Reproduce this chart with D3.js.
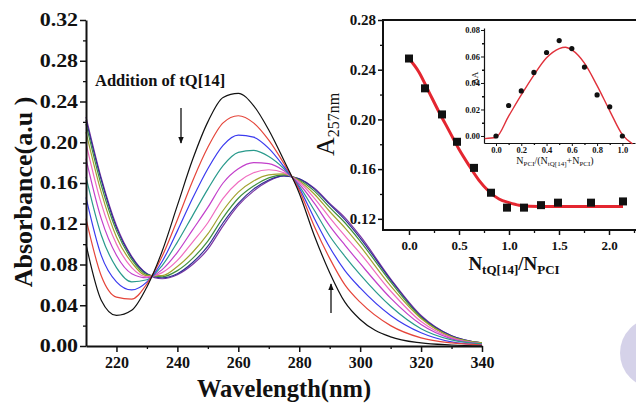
<!DOCTYPE html>
<html><head><meta charset="utf-8">
<script src="https://cdn.jsdelivr.net/npm/d3@7"></script>
<style>
body{margin:0;background:#fff}
svg{display:block}
text{font-family:"Liberation Serif","Times New Roman",serif;fill:#111}
</style>
</head><body>
<svg id="c" width="636" height="403"></svg>
<script>
// ---------- DATA ----------
const wavelengths = [210,215,220,225,230,235,240,245,250,255,260,265,270,275,280,285,290,295,300,310,320,330,340];
const spectrum0 = [0.100,0.045,0.030,0.035,0.058,0.093,0.138,0.183,0.220,0.244,0.248,0.236,0.212,0.182,0.150,0.108,0.072,0.043,0.026,0.009,0.003,0.001,0.000];
const spectrum1 = [0.125,0.069,0.048,0.046,0.061,0.088,0.124,0.162,0.195,0.219,0.226,0.219,0.202,0.179,0.153,0.117,0.086,0.060,0.043,0.020,0.008,0.003,0.001];
const spectrum2 = [0.146,0.089,0.063,0.055,0.063,0.083,0.113,0.145,0.174,0.197,0.207,0.205,0.194,0.176,0.155,0.125,0.097,0.074,0.057,0.030,0.013,0.004,0.001];
const spectrum3 = [0.166,0.109,0.077,0.063,0.065,0.079,0.102,0.128,0.154,0.177,0.190,0.192,0.186,0.174,0.157,0.133,0.108,0.088,0.070,0.039,0.017,0.006,0.002];
const spectrum4 = [0.184,0.125,0.089,0.071,0.067,0.075,0.092,0.114,0.136,0.160,0.174,0.180,0.179,0.172,0.159,0.140,0.118,0.099,0.081,0.047,0.021,0.007,0.002];
const spectrum5 = [0.199,0.140,0.100,0.077,0.068,0.072,0.084,0.102,0.121,0.145,0.161,0.170,0.173,0.170,0.161,0.145,0.126,0.108,0.091,0.054,0.024,0.008,0.002];
const spectrum6 = [0.210,0.151,0.107,0.082,0.069,0.069,0.078,0.092,0.110,0.133,0.151,0.162,0.168,0.169,0.162,0.149,0.132,0.116,0.098,0.059,0.027,0.009,0.003];
const spectrum7 = [0.218,0.158,0.113,0.085,0.070,0.068,0.074,0.086,0.103,0.126,0.145,0.157,0.165,0.168,0.163,0.152,0.136,0.121,0.103,0.063,0.028,0.009,0.003];
const spectrum8 = [0.222,0.163,0.116,0.087,0.071,0.067,0.071,0.082,0.098,0.121,0.140,0.154,0.163,0.167,0.164,0.154,0.139,0.124,0.106,0.065,0.029,0.010,0.003];
const spectrum9 = [0.225,0.165,0.118,0.088,0.071,0.066,0.070,0.080,0.095,0.118,0.138,0.152,0.162,0.167,0.164,0.155,0.140,0.126,0.108,0.066,0.030,0.010,0.003];
const spectra = [spectrum0,spectrum1,spectrum2,spectrum3,spectrum4,spectrum5,spectrum6,spectrum7,spectrum8,spectrum9];
const spectrumColors = ["#111111","#e5453a","#3b3bef","#2a9a8c","#c23fcb","#f06cc0","#a3a32e","#3f8f3f","#2e2e92","#7b34a4"];

const mainXTicks = [220,240,260,280,300,320,340];
const mainXMinor = [230,250,270,290,310,330];
const mainYTicks = [0,0.04,0.08,0.12,0.16,0.20,0.24,0.28,0.32];
const mainYMinor = [0.02,0.06,0.10,0.14,0.18,0.22,0.26,0.30];

// inset: A257 vs ratio
const ratioX = [0,0.16,0.33,0.48,0.65,0.82,0.98,1.15,1.32,1.49,1.82,2.14];
const a257 = [0.249,0.225,0.204,0.182,0.161,0.141,0.129,0.129,0.131,0.133,0.133,0.134];
const fitX = [0,0.1,0.2,0.3,0.4,0.5,0.6,0.7,0.8,0.9,1.0,1.1,1.3,1.6,2.14];
const fitY = [0.249,0.238,0.222,0.206,0.191,0.176,0.163,0.151,0.142,0.136,0.133,0.131,0.130,0.130,0.130];
const insetXTicks = [0,0.5,1.0,1.5,2.0];
const insetXMinor = [0.25,0.75,1.25,1.75,2.25];
const insetYTicks = [0.12,0.16,0.20,0.24,0.28];
const insetYMinor = [0.14,0.18,0.22,0.26];

// inner inset: Job plot
const jobX = [0,0.1,0.2,0.3,0.4,0.5,0.6,0.7,0.8,0.9,1.0];
const jobY = [0.000,0.023,0.034,0.048,0.063,0.072,0.066,0.052,0.031,0.022,0.000];
const jobFitX = [-0.09,0,0.1,0.2,0.3,0.4,0.5,0.55,0.6,0.7,0.8,0.9,1.0,1.08];
const jobFitY = [-0.002,-0.001,0.015,0.031,0.046,0.059,0.066,0.067,0.065,0.055,0.038,0.019,0.001,-0.006];
const jobXTicks = [0,0.2,0.4,0.6,0.8,1.0];
const jobXMinor = [0.1,0.3,0.5,0.7,0.9];
const jobYTicks = [0,0.02,0.04,0.06,0.08];
const jobYMinor = [0.01,0.03,0.05,0.07];

// ---------- DRAW ----------
const svg = d3.select("#c");
svg.append("rect").attr("width",636).attr("height",403).attr("fill","#fff");
svg.append("circle").attr("cx",655).attr("cy",353).attr("r",35).attr("fill","#d5d2e9");

function styleAxis(g, fs, sw){
  g.select(".domain").attr("stroke","#111").attr("stroke-width",sw);
  g.selectAll(".tick line").attr("stroke","#111").attr("stroke-width",Math.max(1,sw-0.5));
  g.selectAll(".tick text").attr("font-size",fs).attr("font-weight","bold").attr("fill","#111")
    .attr("font-family","'Liberation Serif','Times New Roman',serif");
}
function minor(g){ g.select(".domain").remove(); g.selectAll(".tick line").attr("stroke","#111").attr("stroke-width",1.3); }

// main chart
const x = d3.scaleLinear().domain([210,340]).range([86,482]);
const y = d3.scaleLinear().domain([0,0.32]).range([346,20]);

const specLine = d3.line().x((d,i)=>x(wavelengths[i])).y(d=>y(d)).curve(d3.curveMonotoneX);
for(let i=spectra.length-1;i>=0;i--){
  svg.append("path").attr("d",specLine(spectra[i])).attr("fill","none")
    .attr("stroke",spectrumColors[i]).attr("stroke-width",1.2);
}

const gy = svg.append("g").attr("transform","translate(86,0)")
  .call(d3.axisLeft(y).tickValues(mainYTicks).tickSize(6).tickSizeOuter(0).tickFormat(d3.format(".2f")));
styleAxis(gy,18,2);
gy.selectAll(".tick text").attr("x",-6.5).attr("transform","scale(1.22,1)");
svg.append("g").attr("transform","translate(86,0)")
  .call(d3.axisLeft(y).tickValues(mainYMinor).tickSize(3).tickFormat("")).call(minor);

const gx = svg.append("g").attr("transform","translate(0,346)")
  .call(d3.axisBottom(x).tickValues(mainXTicks).tickSize(6).tickSizeOuter(0).tickPadding(5).tickFormat(d3.format("d")));
styleAxis(gx,16,2);
svg.append("g").attr("transform","translate(0,346)")
  .call(d3.axisBottom(x).tickValues(mainXMinor).tickSize(3).tickFormat("")).call(minor);

svg.append("text").attr("transform","translate(32,192) rotate(-90)").attr("text-anchor","middle")
  .attr("font-size",26).attr("font-weight","bold").text("Absorbance(a.u )");
svg.append("text").attr("x",284).attr("y",397).attr("text-anchor","middle")
  .attr("font-size",24.5).attr("font-weight","bold").text("Wavelength(nm)");
svg.append("text").attr("x",95).attr("y",86).attr("font-size",16.5).attr("font-weight","bold").text("Addition of tQ[14]");

// arrows
svg.append("defs").append("marker").attr("id","ah").attr("viewBox","0 0 10 10").attr("refX",9).attr("refY",5)
  .attr("markerWidth",7).attr("markerHeight",7).attr("markerUnits","userSpaceOnUse").attr("orient","auto")
  .append("path").attr("d","M0,1 L10,5 L0,9 Z").attr("fill","#111");
svg.append("line").attr("x1",181).attr("y1",108).attr("x2",181).attr("y2",143)
  .attr("stroke","#111").attr("stroke-width",1.3).attr("marker-end","url(#ah)");
svg.append("line").attr("x1",331).attr("y1",313).attr("x2",331).attr("y2",284)
  .attr("stroke","#111").attr("stroke-width",1.3).attr("marker-end","url(#ah)");

// inset
const xI = d3.scaleLinear().domain([-0.26,2.26]).range([383,635]);
const yI = d3.scaleLinear().domain([0.111,0.28]).range([230,20]);
svg.append("rect").attr("x",383).attr("y",20).attr("width",270).attr("height",210)
  .attr("fill","#fff").attr("stroke","#111").attr("stroke-width",2);
const gyI = svg.append("g").attr("transform","translate(383,0)")
  .call(d3.axisLeft(yI).tickValues(insetYTicks).tickSize(5).tickSizeOuter(0).tickPadding(2).tickFormat(d3.format(".2f")));
styleAxis(gyI,15,2); gyI.select(".domain").remove();
svg.append("g").attr("transform","translate(383,0)")
  .call(d3.axisLeft(yI).tickValues(insetYMinor).tickSize(3).tickFormat("")).call(minor);
const gxI = svg.append("g").attr("transform","translate(0,230)")
  .call(d3.axisBottom(xI).tickValues(insetXTicks).tickSize(5).tickSizeOuter(0).tickPadding(6).tickFormat(d3.format(".1f")));
styleAxis(gxI,13,2); gxI.select(".domain").remove();
svg.append("g").attr("transform","translate(0,230)")
  .call(d3.axisBottom(xI).tickValues(insetXMinor).tickSize(3).tickFormat("")).call(minor);

const fitLine = d3.line().x((d,i)=>xI(fitX[i])).y(d=>yI(d)).curve(d3.curveMonotoneX);
svg.append("path").attr("d",fitLine(fitY)).attr("fill","none").attr("stroke","#e42630").attr("stroke-width",3);
svg.selectAll("rect.pt").data(a257).enter().append("rect").attr("class","pt")
  .attr("x",(d,i)=>xI(ratioX[i])-4).attr("y",d=>yI(d)-4).attr("width",8).attr("height",8).attr("fill","#111");

// inset labels
const yl = svg.append("text").attr("transform","translate(334,156) rotate(-90)").attr("font-size",26);
yl.append("tspan").text("A");
yl.append("tspan").attr("font-size",16).attr("dy",5).text("257nm");
const xl = svg.append("text").attr("x",514).attr("y",270).attr("text-anchor","middle").attr("font-weight","bold").attr("font-size",19);
xl.append("tspan").text("N");
xl.append("tspan").attr("font-size",13).attr("dy",4).text("tQ[14]");
xl.append("tspan").attr("dy",-4).text("/N");
xl.append("tspan").attr("font-size",13).attr("dy",4).text("PCI");

// inner inset
const xJ = d3.scaleLinear().domain([-0.095,1.1]).range([484,635]);
const yJ = d3.scaleLinear().domain([-0.0053,0.0815]).range([143,28]);
const gyJ = svg.append("g").attr("transform","translate(484,0)")
  .call(d3.axisLeft(yJ).tickValues(jobYTicks).tickSize(3).tickSizeOuter(0).tickPadding(1).tickFormat(d3.format(".2f")));
styleAxis(gyJ,8.5,1.2);
svg.append("g").attr("transform","translate(484,0)")
  .call(d3.axisLeft(yJ).tickValues(jobYMinor).tickSize(2).tickFormat("")).call(minor);
const gxJ = svg.append("g").attr("transform","translate(0,143)")
  .call(d3.axisBottom(xJ).tickValues(jobXTicks).tickSize(3).tickSizeOuter(0).tickPadding(1).tickFormat(d3.format(".1f")));
styleAxis(gxJ,8.5,1.2);
svg.append("g").attr("transform","translate(0,143)")
  .call(d3.axisBottom(xJ).tickValues(jobXMinor).tickSize(2).tickFormat("")).call(minor);

const jobLine = d3.line().x((d,i)=>xJ(jobFitX[i])).y(d=>yJ(d)).curve(d3.curveMonotoneX);
svg.append("path").attr("d",jobLine(jobFitY)).attr("fill","none").attr("stroke","#e0303a").attr("stroke-width",1.4);
svg.selectAll("circle.jp").data(jobY).enter().append("circle").attr("class","jp")
  .attr("cx",(d,i)=>xJ(jobX[i])).attr("cy",d=>yJ(d)).attr("r",2.6).attr("fill","#111");

svg.append("text").attr("transform","translate(478,78) rotate(-90)").attr("text-anchor","middle")
  .attr("font-size",9).text("\u0394A");
const jl = svg.append("text").attr("x",555).attr("y",164).attr("text-anchor","middle").attr("font-size",10);
jl.append("tspan").text("N");
jl.append("tspan").attr("font-size",7).attr("dy",2).text("PCI");
jl.append("tspan").attr("dy",-2).text("/(N");
jl.append("tspan").attr("font-size",7).attr("dy",2).text("tQ[14]");
jl.append("tspan").attr("dy",-2).text("+N");
jl.append("tspan").attr("font-size",7).attr("dy",2).text("PCI");
jl.append("tspan").attr("dy",-2).text(")");
</script>
</body></html>
